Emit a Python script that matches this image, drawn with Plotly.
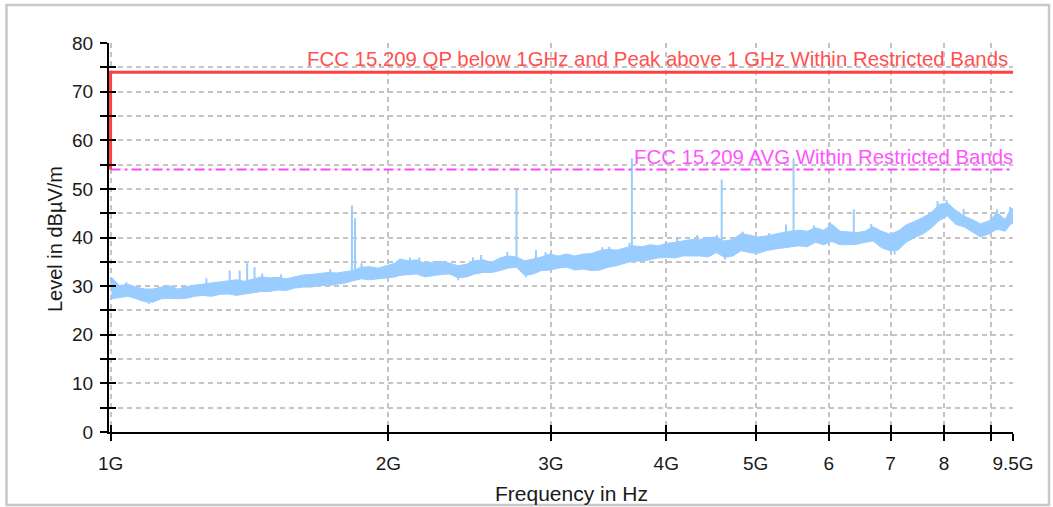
import math
import plotly.graph_objects as go

# ---- data (frequency in GHz, level in dBuV/m) ----
band_freq = [1.002, 1.023, 1.044, 1.066, 1.089, 1.111, 1.135, 1.159, 1.183, 1.208,
             1.233, 1.259, 1.286, 1.313, 1.340, 1.369, 1.397, 1.427, 1.457, 1.487,
             1.518, 1.550, 1.582, 1.616, 1.650, 1.685, 1.720, 1.757, 1.793, 1.830,
             1.869, 1.909, 1.949, 1.990, 2.032,
             2.058, 2.101, 2.145, 2.190, 2.236, 2.283, 2.331, 2.380, 2.430, 2.481,
             2.533, 2.587, 2.641, 2.696, 2.753, 2.810, 2.870, 2.930, 2.991, 3.054,
             3.119, 3.184, 3.251, 3.320, 3.389, 3.460, 3.533, 3.607, 3.683, 3.761,
             3.838, 3.922, 4.004, 4.088, 4.173, 4.261,
             4.350, 4.441, 4.532, 4.627, 4.723, 4.822, 4.922, 5.024, 5.129, 5.236,
             5.345, 5.456, 5.569, 5.685, 5.803, 5.924, 6.046, 6.172, 6.300, 6.432,
             6.566, 6.702, 6.842, 6.984, 7.130, 7.278, 7.430, 7.585, 7.743, 7.903,
             8.067, 8.235, 8.406, 8.580, 8.760, 8.942, 9.129, 9.318, 9.440, 9.500]
band_low = [27.4, 27.7, 27.9, 27.4, 26.8, 26.7, 27.4, 27.5, 27.4, 27.5,
            27.9, 28.1, 27.9, 28.3, 28.4, 28.1, 28.4, 28.7, 28.9, 28.9,
            29.2, 29.1, 29.6, 29.8, 29.8, 30.1, 30.1, 30.4, 30.6, 31.1,
            31.5, 31.3, 31.5, 31.7, 31.9,
            32.2, 32.4, 32.5, 31.9, 32.2, 32.4, 32.5, 31.7, 31.9, 32.5,
            32.8, 32.8, 33.2, 33.7, 33.9, 32.2, 32.5, 33.2, 33.3, 33.7,
            33.9, 33.3, 33.5, 33.2, 33.3, 33.9, 34.2, 34.7, 35.2, 35.1,
            35.4, 35.8, 35.9, 35.8, 36.2, 36.2,
            36.2, 36.0, 36.9, 35.9, 36.2, 37.3, 36.9, 36.7, 37.3, 37.6,
            37.8, 38.1, 38.3, 38.1, 39.0, 38.5, 39.2, 38.5, 38.5, 38.6,
            39.0, 39.3, 37.9, 37.3, 37.4, 39.0, 40.0, 40.7, 41.9, 43.5,
            44.4, 42.7, 42.2, 41.2, 40.1, 40.7, 41.7, 41.3, 42.7, 43.0]
band_high = [31.8, 30.1, 30.4, 29.8, 29.4, 29.4, 29.8, 30.1, 29.4, 29.9,
             30.2, 30.4, 30.6, 30.8, 31.1, 31.3, 31.0, 31.5, 31.9, 31.7,
             31.8, 31.5, 31.9, 32.3, 32.4, 32.6, 32.8, 32.7, 33.0, 33.2,
             33.9, 34.0, 33.7, 34.2, 34.7,
             35.6, 35.2, 35.4, 34.7, 34.9, 35.1, 34.7, 34.2, 34.5, 35.2,
             35.4, 34.9, 35.8, 36.2, 36.0, 35.2, 35.6, 36.0, 36.6, 36.2,
             36.6, 36.2, 36.6, 36.7, 37.3, 37.6, 37.4, 37.8, 38.3, 38.1,
             38.5, 38.3, 38.8, 39.0, 39.3, 39.6,
             39.6, 40.0, 40.1, 39.3, 39.6, 40.8, 40.5, 40.1, 40.3, 40.7,
             41.0, 41.3, 41.5, 41.3, 42.0, 41.5, 42.7, 41.3, 41.2, 41.0,
             41.3, 42.2, 41.3, 40.7, 41.3, 42.6, 43.3, 44.1, 45.1, 46.8,
             47.1, 45.6, 44.4, 43.7, 42.8, 43.4, 45.1, 43.7, 45.8, 46.0]

# isolated narrow emissions / noise extremes: frequency, from level, to level
seg_freq = [1.002, 1.040, 1.100, 1.270, 1.346, 1.380, 1.406, 1.432, 1.460, 1.530,
            1.730, 1.826, 1.840, 1.870, 2.110, 2.160, 2.380, 2.470, 2.520, 2.690,
            2.753, 2.820, 2.890, 2.960, 3.410, 3.470, 3.650, 3.671, 4.110, 4.320,
            4.540, 4.593, 4.630, 4.840, 5.170, 5.392, 5.495, 5.780, 6.020, 6.386,
            6.670, 7.070, 7.870, 8.050, 8.400, 9.130, 9.430]
seg_from = [30.0, 29.5, 27.5, 30.0, 30.5, 30.8, 31.0, 31.0, 31.5, 31.0,
            32.0, 33.0, 33.0, 33.5, 34.5, 34.5, 32.5, 34.5, 35.0, 35.5,
            35.5, 33.0, 35.5, 35.5, 36.5, 36.5, 37.5, 37.5, 38.5, 39.0,
            39.0, 39.5, 37.0, 39.8, 39.5, 40.5, 40.5, 41.0, 41.5, 40.5,
            41.3, 37.5, 46.0, 46.2, 44.4, 44.2, 44.8]
seg_to = [31.8, 30.8, 26.3, 31.6, 33.2, 33.2, 34.7, 33.9, 32.6, 32.4,
          33.5, 46.6, 44.0, 34.7, 35.9, 35.9, 31.2, 35.9, 36.4, 37.0,
          49.9, 31.8, 37.4, 37.0, 38.0, 38.1, 38.9, 56.3, 40.1, 40.5,
          40.5, 51.9, 35.5, 41.2, 40.9, 42.7, 56.3, 42.5, 43.2, 45.8,
          42.8, 36.5, 47.5, 47.7, 45.9, 45.8, 46.3]

qp_limit_freq = [1.0, 1.0, 9.5]
qp_limit_level = [54.0, 74.0, 74.0]
avg_limit_freq = [1.0, 9.5]
avg_limit_level = [54.0, 54.0]

x_tickvals = [1, 2, 3, 4, 5, 6, 7, 8, 9, 9.5]
x_ticktext = ["1G", "2G", "3G", "4G", "5G", "6", "7", "8", "", "9.5G"]
y_tickvals = list(range(0, 81, 5))
y_ticktext = [str(v) if v % 10 == 0 else "" for v in y_tickvals]

qp_label = "FCC 15.209 QP below 1GHz and Peak above 1 GHz Within Restricted Bands"
avg_label = "FCC 15.209 AVG Within Restricted Bands"
x_title = "Frequency in Hz"
y_title = "Level in dBµV/m"

# ---- styles ----
FONT = "Liberation Sans, Arial, sans-serif"
TRACE_COLOR = "#99ccff"
RED = "#ff4040"
MAGENTA = "#ff44ff"
GRID = "#c4c4c4"

fig = go.Figure()

fig.add_trace(go.Scatter(x=band_freq, y=band_low, mode="lines",
                         line=dict(color=TRACE_COLOR, width=1),
                         hoverinfo="skip", showlegend=False))
fig.add_trace(go.Scatter(x=band_freq, y=band_high, mode="lines",
                         line=dict(color=TRACE_COLOR, width=1),
                         fill="tonexty", fillcolor=TRACE_COLOR,
                         hoverinfo="skip", showlegend=False))

sx, sy = [], []
for f, a, b in zip(seg_freq, seg_from, seg_to):
    sx += [f, f, None]
    sy += [a, b, None]
fig.add_trace(go.Scatter(x=sx, y=sy, mode="lines",
                         line=dict(color=TRACE_COLOR, width=2),
                         hoverinfo="skip", showlegend=False))

fig.add_trace(go.Scatter(x=avg_limit_freq, y=avg_limit_level, mode="lines",
                         line=dict(color=MAGENTA, width=2, dash="10px,4px,3px,4px"),
                         showlegend=False))
fig.add_trace(go.Scatter(x=qp_limit_freq, y=qp_limit_level, mode="lines",
                         line=dict(color=RED, width=3),
                         showlegend=False, cliponaxis=False))

# invisible trace on overlay axes (for inward ticks)
fig.add_trace(go.Scatter(x=[1], y=[0], xaxis="x2", yaxis="y2", mode="markers",
                         marker=dict(opacity=0), hoverinfo="skip", showlegend=False))

# axis starts a hair below 1 GHz so the vertical limit step stays visible
xrange = [-0.0017, math.log10(9.5)]
ML = 109
fig.update_layout(
    width=1053, height=507,
    margin=dict(l=ML, r=40, t=43, b=75),
    paper_bgcolor="white", plot_bgcolor="white",
    font=dict(family=FONT, size=19, color="#1a1a1a"),
    xaxis=dict(type="log", range=xrange, tickvals=x_tickvals, ticktext=x_ticktext,
               showgrid=True, gridcolor=GRID, gridwidth=1.5, griddash="5px,4px",
               showline=True, linecolor="black", linewidth=2,
               ticks="outside", ticklen=7, tickwidth=2, tickcolor="black",
               ticklabelstandoff=6, zeroline=False, layer="below traces",
               tickfont=dict(size=19)),
    yaxis=dict(range=[0, 80], tickvals=y_tickvals, ticktext=y_ticktext,
               showgrid=True, gridcolor=GRID, gridwidth=1.5, griddash="5px,4px",
               showline=True, linecolor="black", linewidth=2,
               ticks="outside", ticklen=7, tickwidth=2, tickcolor="black",
               ticklabelstandoff=3, zeroline=False, layer="below traces",
               tickfont=dict(size=19)),
    xaxis2=dict(type="log", range=xrange, overlaying="x", anchor="y2", side="bottom",
                tickvals=x_tickvals, showticklabels=False, showgrid=False,
                showline=False, zeroline=False,
                ticks="inside", ticklen=7, tickwidth=2, tickcolor="black"),
    yaxis2=dict(range=[0, 80], overlaying="y", anchor="x2", side="left",
                tickvals=y_tickvals, showticklabels=False, showgrid=False,
                showline=False, zeroline=False,
                ticks="inside", ticklen=7, tickwidth=2, tickcolor="black"),
    shapes=[dict(type="rect", xref="paper", yref="paper",
                 x0=(6.5 - ML) / 904, x1=(1049 - ML) / 904, y0=-0.1877, y1=1.0977,
                 line=dict(color="#c8c8c8", width=2.5), layer="below")],
    annotations=[
        dict(text=qp_label, x=math.log10(9.43), y=74, xref="x", yref="y",
             xanchor="right", yanchor="bottom", showarrow=False, yshift=0,
             font=dict(size=20.4, color="#ff5050")),
        dict(text=avg_label, x=math.log10(9.5), y=54, xref="x", yref="y",
             xanchor="right", yanchor="bottom", showarrow=False, yshift=-1, xshift=2,
             font=dict(size=20.4, color="#ff55ff")),
        dict(text=x_title, x=(571 - ML) / 904, y=-0.157, xref="paper", yref="paper",
             xanchor="center", yanchor="middle", showarrow=False,
             font=dict(size=21, color="#1a1a1a")),
        dict(text=y_title, x=(55 - ML) / 904, y=0.496, xref="paper", yref="paper",
             xanchor="center", yanchor="middle", showarrow=False, textangle=-90,
             font=dict(size=20, color="#1a1a1a")),
    ],
)

fig.write_html("out.html")
